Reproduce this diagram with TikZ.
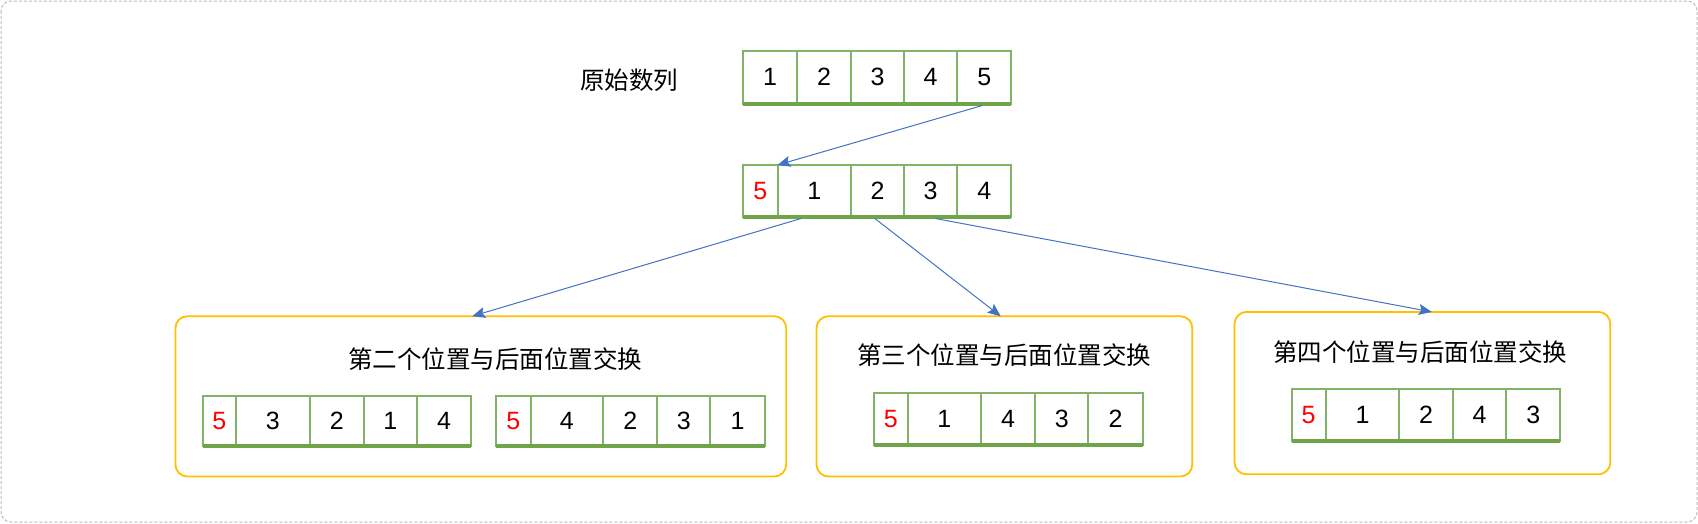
\documentclass[tikz,border=0pt]{standalone}
\usepackage{fontspec}
\setmainfont{Liberation Sans}
\newfontfamily\cjk{Noto Sans CJK SC}
\usetikzlibrary{arrows.meta,calc}
\definecolor{cgreen}{HTML}{82B366}
\definecolor{cgreendark}{HTML}{6FA548}
\definecolor{corange}{HTML}{FFC000}
\definecolor{cblue}{HTML}{4472C4}
\definecolor{cborder}{HTML}{BBBBBB}
\tikzset{
  cell/.style={draw=cgreen, line width=2pt, fill=white, inner sep=0pt, outer sep=0pt,
    font=\fontsize{25}{28}\selectfont},
  bottomline/.style={draw=cgreendark, line width=4pt},
  obox/.style={draw=corange, line width=1.8pt, rounded corners=12pt, inner sep=0pt, outer sep=0pt},
  title/.style={font=\cjk\fontsize{24.5}{28}\selectfont, inner sep=0pt},
  arr/.style={draw=cblue, line width=1pt, -{Stealth[length=13pt, width=11pt, inset=2.5pt]}}
}
\newcommand\mycell[6]{\node[cell, minimum width={(#3-#2)*1pt}, minimum height={(#5-#4)*1pt}] (#1) at ({(#2+#3)/2},{(#4+#5)/2}) {#6};}
\newcommand\mybox[5]{\node[obox, minimum width={(#3-#2)*1pt}, minimum height={(#5-#4)*1pt}] (#1) at ({(#2+#3)/2},{(#4+#5)/2}) {};}
\begin{document}
\begin{tikzpicture}[x=1pt, y=-1pt]
\useasboundingbox (0,0) rectangle (1698,523);
\fill[white] (0,0) rectangle (1698,523);
\draw[cborder, line width=1pt, dash pattern=on 3pt off 2pt, rounded corners=10pt] (1,1) rectangle (1697,522);

% label
\node[title] (lbl) at (629,80) {原始数列};

% row 0
\mycell{r0-1}{742.9}{797}{51}{103.5}{1}
\mycell{r0-2}{797}{851}{51}{103.5}{2}
\mycell{r0-3}{851}{904}{51}{103.5}{3}
\mycell{r0-4}{904}{957.3}{51}{103.5}{4}
\mycell{r0-5}{957.3}{1011.4}{51}{103.5}{5}
\draw[bottomline] (r0-1.south west) -- (r0-5.south east);

% row 1
\mycell{r1-1}{742.9}{777.5}{165}{216.5}{\textcolor{red}{5}}
\mycell{r1-2}{777.5}{851}{165}{216.5}{1}
\mycell{r1-3}{851}{904}{165}{216.5}{2}
\mycell{r1-4}{904}{957.3}{165}{216.5}{3}
\mycell{r1-5}{957.3}{1011.4}{165}{216.5}{4}
\draw[bottomline] (r1-1.south west) -- (r1-5.south east);

% boxes
\mybox{B1}{175.4}{786.2}{316.2}{476.5}
\mybox{B2}{816.5}{1192.3}{316.2}{476.5}
\mybox{B3}{1234.5}{1610.3}{311.9}{474.3}

\node[title] (t1) at (495,359.5) {第二个位置与后面位置交换};
\node[title] (t2) at (1004,355.2) {第三个位置与后面位置交换};
\node[title] (t3) at (1420,352) {第四个位置与后面位置交换};

% box1 row a
\mycell{a-1}{202.5}{236}{396.3}{446}{\textcolor{red}{5}}
\mycell{a-2}{236}{309.7}{396.3}{446}{3}
\mycell{a-3}{309.7}{363.9}{396.3}{446}{2}
\mycell{a-4}{363.9}{416.9}{396.3}{446}{1}
\mycell{a-5}{416.9}{471}{396.3}{446}{4}
\draw[bottomline] (a-1.south west) -- (a-5.south east);
% box1 row b
\mycell{b-1}{496}{530.6}{396.3}{446}{\textcolor{red}{5}}
\mycell{b-2}{530.6}{603.2}{396.3}{446}{4}
\mycell{b-3}{603.2}{657.3}{396.3}{446}{2}
\mycell{b-4}{657.3}{710.4}{396.3}{446}{3}
\mycell{b-5}{710.4}{764.5}{396.3}{446}{1}
\draw[bottomline] (b-1.south west) -- (b-5.south east);
% box2 row
\mycell{c-1}{874}{907.7}{393.3}{444.5}{\textcolor{red}{5}}
\mycell{c-2}{907.7}{981}{393.3}{444.5}{1}
\mycell{c-3}{981}{1035.3}{393.3}{444.5}{4}
\mycell{c-4}{1035.3}{1088.3}{393.3}{444.5}{3}
\mycell{c-5}{1088.3}{1142.6}{393.3}{444.5}{2}
\draw[bottomline] (c-1.south west) -- (c-5.south east);
% box3 row
\mycell{d-1}{1291.5}{1325.7}{389}{441}{\textcolor{red}{5}}
\mycell{d-2}{1325.7}{1399.2}{389}{441}{1}
\mycell{d-3}{1399.2}{1453}{389}{441}{2}
\mycell{d-4}{1453}{1506.2}{389}{441}{4}
\mycell{d-5}{1506.2}{1560.3}{389}{441}{3}
\draw[bottomline] (d-1.south west) -- (d-5.south east);

% arrows
\draw[arr] ($(r0-5.south)+(-2,2)$) -- (r1-1.north east);
\draw[arr] ($(r1-2.south west)!0.32!(r1-2.south east)+(0,2)$) -- ($(B1.north west)!0.486!(B1.north east)$);
\draw[arr] ($(r1-3.south west)!0.45!(r1-3.south east)+(0,2)$) -- ($(B2.north west)!0.49!(B2.north east)$);
\draw[arr] ($(r1-4.south west)!0.59!(r1-4.south east)+(0,2)$) -- ($(B3.north west)!0.525!(B3.north east)$);
\end{tikzpicture}
\end{document}
